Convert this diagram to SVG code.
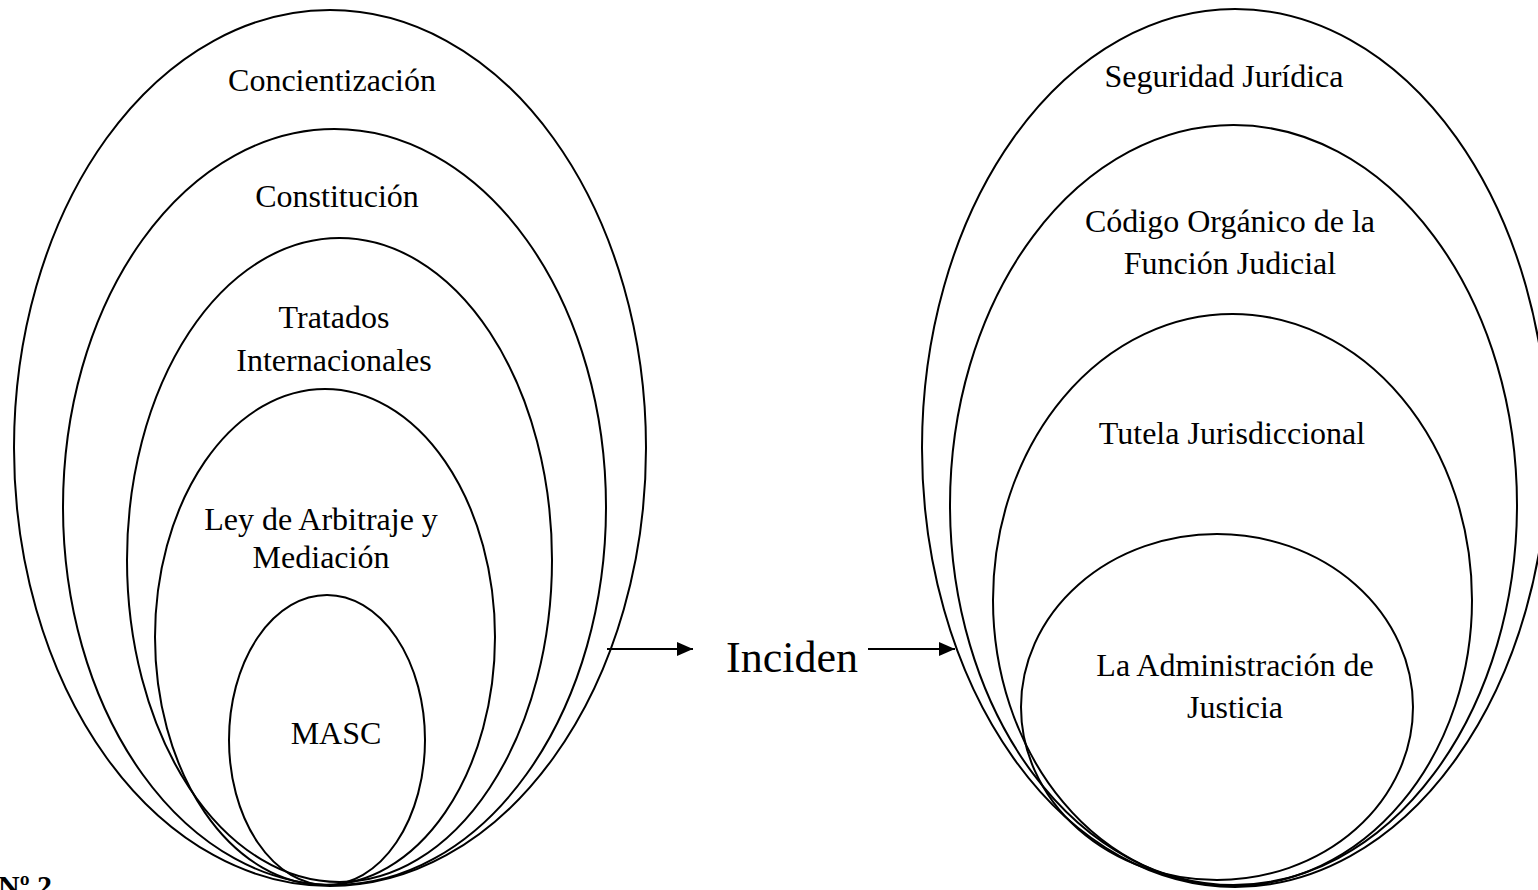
<svg xmlns="http://www.w3.org/2000/svg" width="1538" height="890" viewBox="0 0 1538 890">
<style>
.e{fill:none;stroke:#000;stroke-width:2}
.t{font-family:"Liberation Serif","Times New Roman",serif;font-size:32px;fill:#000;text-anchor:middle}
.big{font-size:44px}
.c{stroke:#000;stroke-width:2;fill:none}
</style>
<defs>
<marker id="ah" markerWidth="16" markerHeight="14" refX="16" refY="7" orient="auto" markerUnits="userSpaceOnUse">
<path d="M0,0 L16,7 L0,14 Z" fill="#000"/>
</marker>
</defs>
<rect width="1538" height="890" fill="#fff"/>
<g id="left-group">
<g id="concientizacion"><ellipse class="e" cx="330" cy="448" rx="316" ry="438"/><text class="t" x="332" y="91">Concientización</text></g>
<g id="constitucion"><ellipse class="e" cx="334.5" cy="507" rx="271.5" ry="378"/><text class="t" x="337" y="207">Constitución</text></g>
<g id="tratados"><ellipse class="e" cx="339.5" cy="560" rx="212.5" ry="322"/><text class="t" x="334" y="328">Tratados</text><text class="t" x="334" y="371">Internacionales</text></g>
<g id="ley"><ellipse class="e" cx="325" cy="637" rx="170" ry="248"/><text class="t" x="321" y="530">Ley de Arbitraje y</text><text class="t" x="321" y="568">Mediación</text></g>
<g id="masc"><ellipse class="e" cx="327" cy="740" rx="98" ry="145"/><text class="t" x="336" y="744">MASC</text></g>
</g>
<g id="right-group">
<g id="seguridad"><ellipse class="e" cx="1235" cy="448" rx="313" ry="439"/><text class="t" x="1224" y="87">Seguridad Jurídica</text></g>
<g id="codigo"><ellipse class="e" cx="1233.5" cy="505" rx="283.5" ry="380"/><text class="t" x="1230" y="232">Código Orgánico de la</text><text class="t" x="1230" y="274">Función Judicial</text></g>
<g id="tutela"><ellipse class="e" cx="1232.5" cy="600" rx="239.5" ry="286"/><text class="t" x="1232" y="444">Tutela Jurisdiccional</text></g>
<g id="administracion"><ellipse class="e" cx="1217" cy="707" rx="196" ry="173"/><text class="t" x="1235" y="676">La Administración de</text><text class="t" x="1235" y="718">Justicia</text></g>
</g>
<g id="connectors">
<line class="c" x1="607" y1="649" x2="693" y2="649" marker-end="url(#ah)"/>
<line class="c" x1="868" y1="649" x2="955" y2="649" marker-end="url(#ah)"/>
</g>
<text class="t big" x="792" y="672">Inciden</text>
<text x="-2" y="896" style="font-family:'Liberation Serif','Times New Roman',serif;font-size:30px;font-weight:bold">Nº 2</text>
</svg>
